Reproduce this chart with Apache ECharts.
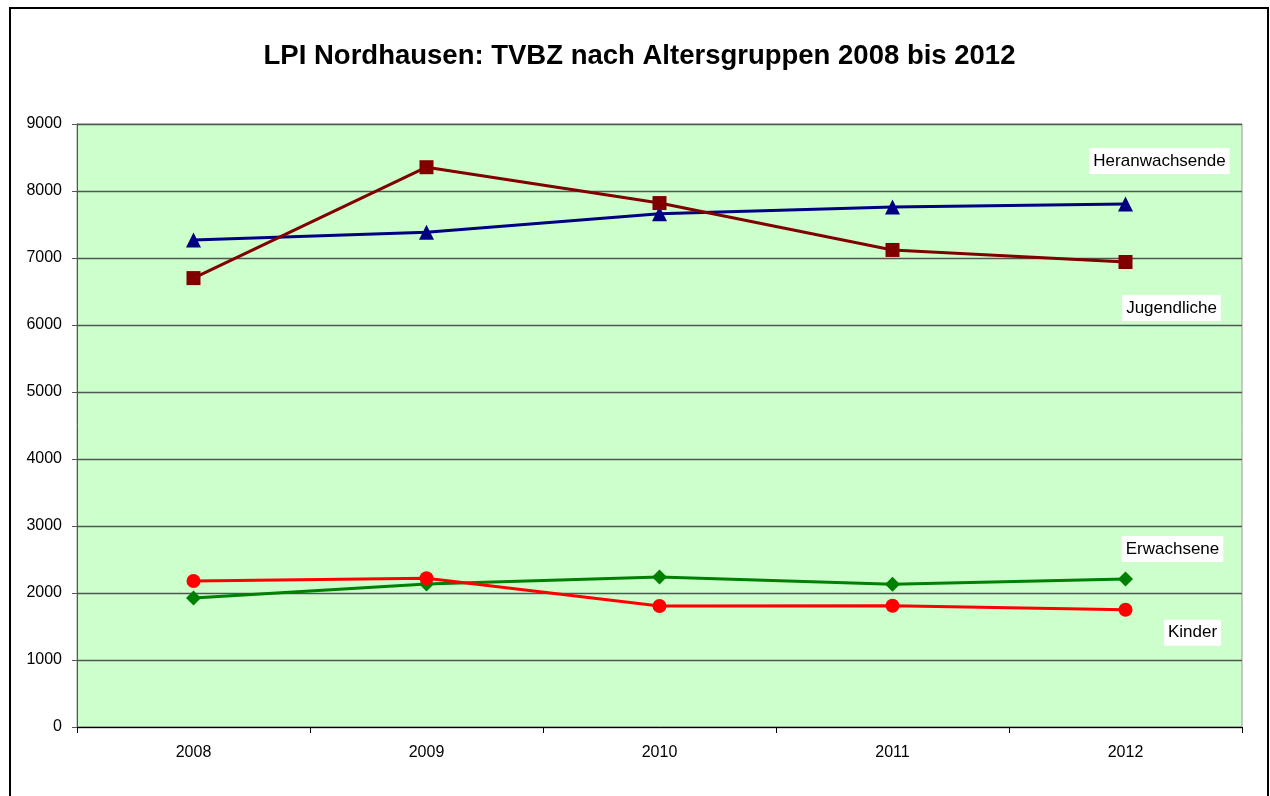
<!DOCTYPE html>
<html>
<head>
<meta charset="utf-8">
<script src="https://cdn.jsdelivr.net/npm/echarts@6/dist/echarts.min.js"></script>
<style>
html,body{margin:0;padding:0;background:#fff;}
#c{width:1270px;height:796px;}
</style>
</head>
<body>
<div id="c"></div>
<script>
const titleText = 'LPI Nordhausen: TVBZ nach Altersgruppen 2008 bis 2012';
const years = ['2008', '2009', '2010', '2011', '2012'];
const heranwachsende = [7270, 7385, 7660, 7760, 7805];
const jugendliche = [6700, 8355, 7820, 7120, 6940];
const erwachsene = [1925, 2135, 2240, 2130, 2210];
const kinder = [2180, 2220, 1805, 1810, 1750];
const yTicks = { min: 0, max: 9000, interval: 1000 };

const chart = echarts.init(document.getElementById('c'));
const font = 'Liberation Sans, Arial, sans-serif';

function lastLabel(arr, name, offset) {
  return arr.map((v, i) => i === arr.length - 1 ? {
    value: v,
    label: {
      show: true, position: 'inside', offset: offset, formatter: name,
      backgroundColor: '#fff', padding: [5, 4, 4, 4], color: '#000',
      fontFamily: font, fontSize: 17
    }
  } : v);
}

function mk(name, data, color, symbol, size, offset) {
  return {
    name: name, type: 'line', data: lastLabel(data, name, offset),
    symbol: symbol, symbolSize: size, showSymbol: true,
    lineStyle: { color: color, width: 3 },
    itemStyle: { color: color },
    emphasis: { disabled: true },
    z: 3
  };
}

chart.setOption({
  animation: false,
  backgroundColor: '#fff',
  title: {
    text: titleText, left: 634.5, textAlign: 'center', top: 37,
    textStyle: { fontFamily: font, fontSize: 27.5, fontWeight: 'bold', color: '#000' }
  },
  graphic: [{
    type: 'rect', shape: { x: 10, y: 8, width: 1258, height: 900 },
    style: { fill: 'none', stroke: '#000', lineWidth: 2 }, silent: true, z: 100
  }],
  grid: {
    left: 77, top: 124, width: 1165, height: 603,
    show: true, backgroundColor: '#CCFFCC', borderColor: '#9a9a9a', borderWidth: 1
  },
  xAxis: {
    type: 'category', data: years, boundaryGap: true,
    axisLine: { lineStyle: { color: '#000', width: 1 } },
    axisTick: { show: true, length: 6, alignWithLabel: false, lineStyle: { color: '#000' } },
    axisLabel: { color: '#000', fontFamily: font, fontSize: 16, margin: 18 },
    splitLine: { show: false }
  },
  yAxis: {
    type: 'value', min: yTicks.min, max: yTicks.max, interval: yTicks.interval,
    axisLine: { show: true, lineStyle: { color: '#555', width: 1 } },
    axisTick: { show: true, length: 5, lineStyle: { color: '#555' } },
    axisLabel: { color: '#000', fontFamily: font, fontSize: 16, margin: 15, formatter: v => String(v) },
    splitLine: { show: true, lineStyle: { color: '#4f574f', width: 1.3 } }
  },
  series: [
    mk('Heranwachsende', heranwachsende, '#000080', 'triangle', 15, [34, -43]),
    mk('Jugendliche', jugendliche, '#800000', 'rect', 14, [46, 46]),
    mk('Erwachsene', erwachsene, '#008000', 'diamond', 15, [47, -30]),
    mk('Kinder', kinder, '#FF0000', 'circle', 14, [67, 23])
  ]
});
</script>
</body>
</html>
